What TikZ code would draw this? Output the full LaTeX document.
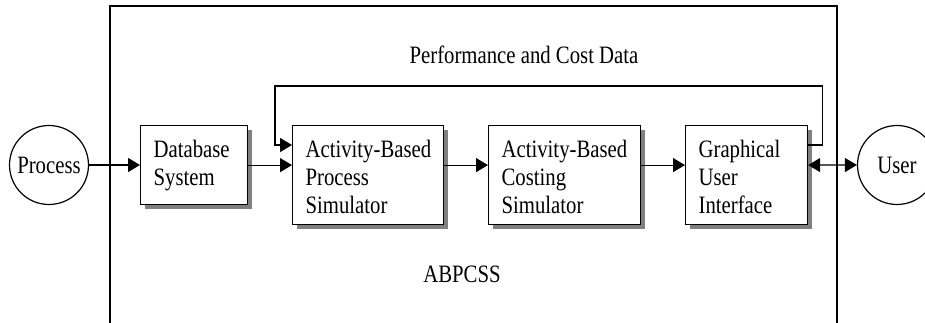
\documentclass[tikz,border=0pt]{standalone}
\usepackage{fontspec}
\setmainfont[FakeStretch=0.83]{Liberation Serif}
\usetikzlibrary{arrows.meta,shadows,calc}

\begin{document}
\begin{tikzpicture}[x=1pt,y=-1pt,line width=1.2pt,
  txt/.style={font=\fontsize{25}{28}\selectfont, inner sep=0pt},
  blk/.style={draw, fill=white, line width=1.2pt, anchor=north west,
    drop shadow={shadow xshift=4pt, shadow yshift=-4pt, fill=black!50, opacity=1}},
  blktxt/.style={txt, align=left, anchor=north west},
  arr/.style={-{Triangle[length=12pt,width=14pt]}},
  darr/.style={{Triangle[length=12pt,width=14pt]}-{Triangle[length=12pt,width=14pt]}},
  ent/.style={circle, draw, fill=white, minimum size=79pt, txt}]

\useasboundingbox (0,0) rectangle (925,322);

% system boundary (open at the bottom)
\draw[line width=1.4pt] (110,335) -- (110,6) -- (837,6) -- (837,335);

% external entities
\node[ent] (proc) at (49,165) {Process};
\node[ent] (user) at (897,165) {User};

% blocks
\node[blk, minimum width=107pt, minimum height=79pt] (db) at (140,125) {};
\node[blk, minimum width=151pt, minimum height=99pt] (abp) at (292,125) {};
\node[blk, minimum width=152pt, minimum height=99pt] (cost) at (488,125) {};
\node[blk, minimum width=122pt, minimum height=99pt] (gui) at (685,125) {};

\node[blktxt] (dbt) at ($(db.north west)+(13,15)$) {Database\\System};
\node[blktxt] (abpt) at ($(abp.north west)+(13,15)$) {Activity-Based\\Process\\Simulator};
\node[blktxt] (costt) at ($(cost.north west)+(13,15)$) {Activity-Based\\Costing\\Simulator};
\node[blktxt] (guit) at ($(gui.north west)+(13,15)$) {Graphical\\User\\Interface};

% labels
\node[txt, anchor=base] (perf) at (524,63) {Performance and Cost Data};
\node[txt, anchor=base] (sys) at (462,282) {ABPCSS};

% main flow
\draw[arr] (proc.east) -- (proc.east -| db.west);
\draw[arr] (db.east) -- (db.east -| abp.west);
\draw[arr] (abp.east |- db.east) -- (cost.west |- db.east);
\draw[arr] (cost.east |- db.east) -- (gui.west |- db.east);
\draw[darr] (gui.east |- db.east) -- (user.west);

% feedback of performance and cost data
\coordinate (fbout) at ($(gui.north east)+(0,20)$);
\coordinate (fbin) at ($(abp.north west)+(0,20)$);
\draw[arr] (fbout) -- ++(14,0) |- (275,86) |- (fbin);

\end{tikzpicture}
\end{document}
